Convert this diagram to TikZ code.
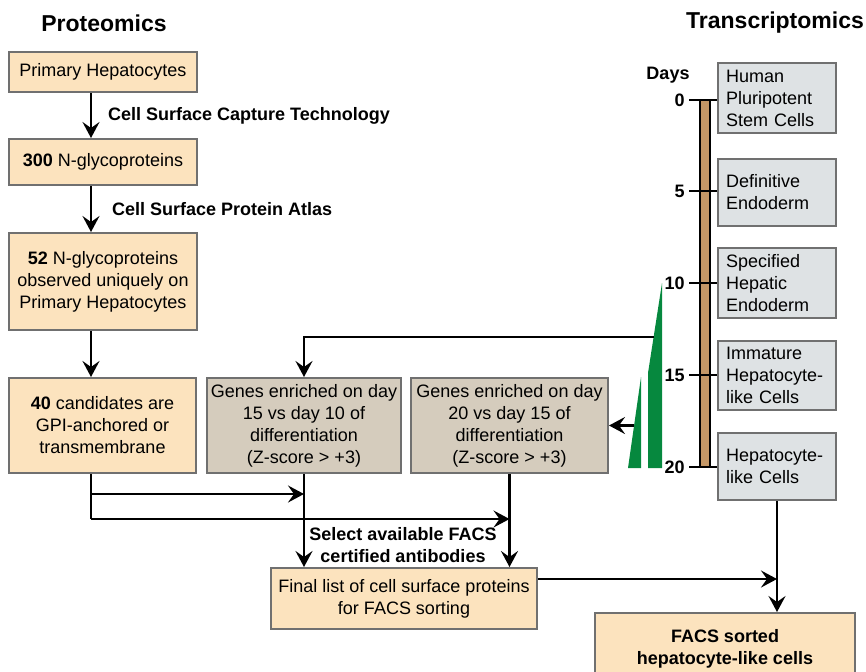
\documentclass[tikz,border=0pt]{standalone}
\usepackage{fontspec}
\setmainfont{Liberation Sans}
\usepackage{tikz}
\usetikzlibrary{positioning,calc}
\usetikzlibrary{arrows.meta}
\definecolor{Peach}{RGB}{252,227,190}
\definecolor{Tan}{RGB}{213,204,189}
\definecolor{CellGray}{RGB}{222,226,228}
\definecolor{BoxLine}{RGB}{112,112,112}
\definecolor{BarBrown}{RGB}{196,151,102}
\definecolor{WedgeGreen}{RGB}{6,136,62}
\newcommand{\boxfont}{\fontsize{9}{11}\selectfont}
\tikzset{
	pbox/.style={draw=BoxLine,line width=1pt,fill=Peach,align=center,inner sep=2pt,font=\boxfont},
	gbox/.style={draw=BoxLine,line width=1pt,fill=Tan,align=center,inner sep=2pt,font=\boxfont},
	cell/.style={draw=BoxLine,line width=1pt,fill=CellGray,align=left,inner xsep=4pt,
		text width=51pt,minimum height=33.5pt,font=\boxfont},
	lbl/.style={font=\boxfont\bfseries,align=center,inner sep=0pt},
	title/.style={font=\fontsize{11.5}{14}\selectfont\bfseries},
	arr/.style={-{Stealth[length=8pt,width=8.5pt,inset=3pt]},line width=1.1pt},
	tick/.style={line width=0.9pt},
}
\begin{document}
\begin{tikzpicture}[x=0.5pt,y=-0.5pt]
	\useasboundingbox (0,0) rectangle (866,671);
	\node[title] (prot) at (104,23) {Proteomics};
	\node[title] (trans) at (775,23) {Transcriptomics};

	% proteomics column
	\coordinate (lx) at (91,0);
	\node[pbox,minimum width=94pt,minimum height=20pt] (prim) at (103,72) {Primary Hepatocytes};
	\node[pbox,minimum width=94pt,minimum height=23pt] (glyc) at (103,162) {\textbf{300} N-glycoproteins};
	\node[pbox,minimum width=94pt,minimum height=48.5pt] (uniq) at (103,281.5)
		{\textbf{52} N-glycoproteins\\observed uniquely on\\Primary Hepatocytes};
	\node[pbox,minimum width=93.5pt,minimum height=47.5pt] (cand) at (102.5,425.5)
		{\textbf{40} candidates are\\GPI-anchored or\\transmembrane};
	\node[gbox,minimum width=97pt,minimum height=47.5pt] (day15) at (304,425.5)
		{Genes enriched on day\\15 vs day 10 of\\differentiation\\(Z-score > +3)};
	\node[gbox,minimum width=98.5pt,minimum height=47.5pt] (day20) at (509.5,425.5)
		{Genes enriched on day\\20 vs day 15 of\\differentiation\\(Z-score > +3)};
	\node[pbox,minimum width=133pt,minimum height=30.5pt] (final) at (404,598.5)
		{Final list of cell surface proteins\\for FACS sorting};
	\node[pbox,minimum width=130pt,minimum height=36pt,font=\boxfont\bfseries] (facs) at (725,649)
		{FACS sorted\\hepatocyte-like cells};
	\node[lbl] (select) at (403,545) {Select available FACS\\certified antibodies};

	% transcriptomics time line
	\node[cell] (hpsc) at (777,98) {Human\\Pluripotent\\Stem Cells};
	\node[cell] (defe) at (777,192) {Definitive\\Endoderm};
	\node[cell] (spec) at (777,283) {Specified\\Hepatic\\Endoderm};
	\node[cell] (imm) at (777,375.5) {Immature\\\mbox{Hepatocyte-}\\like Cells};
	\node[cell] (hep) at (777,466.5) {\mbox{Hepatocyte-}\\like Cells};
	\node[font=\boxfont\bfseries] (days) at (668,75) {Days};
	\draw[fill=BarBrown,line width=0.9pt] (700,100) rectangle (710,467);
	\foreach \d/\yy in {0/100,5/191,10/283,15/375,20/467}{
		\draw[tick] (689,\yy) -- (717,\yy);
		\node[font=\boxfont\bfseries,anchor=east,inner sep=1pt] (d\d) at (687,\yy) {\d};
	}
	\fill[WedgeGreen] (648,468) -- (648,373) -- (662,283) -- (662,468) -- cycle;
	\fill[WedgeGreen] (628,468) -- (641,377) -- (641,468) -- cycle;
	\coordinate (wbig) at (654,337);
	\coordinate (wsmall) at (634,425.5);

	% connectors
	\draw[arr] (prim.south -| lx) -- node[lbl,right=8pt] {Cell Surface Capture Technology} (glyc.north -| lx);
	\draw[arr] (glyc.south -| lx) -- node[lbl,right=10pt] {Cell Surface Protein Atlas} (uniq.north -| lx);
	\draw[arr] (uniq.south -| lx) -- (cand.north -| lx);
	\coordinate (ja) at (0,494);
	\coordinate (jb) at (0,519);
	\coordinate (jc) at (0,579);
	\draw[line width=1.1pt] (cand.south -| lx) -- (jb -| lx);
	\draw[arr] (ja -| lx) -- (ja -| day15.south);
	\draw[arr] (jb -| lx) -- (jb -| day20.south);
	\draw[arr] (day15.south) -- (day15.south |- final.north);
	\draw[arr] (day20.south) -- (day20.south |- final.north);
	\draw[arr] (wbig) -| (day15.north);
	\draw[arr] (wsmall) -- (day20.east);
	\draw[arr] (final.east |- jc) -- (hep.south |- jc);
	\draw[arr] (hep.south) -- (hep.south |- facs.north);
\end{tikzpicture}
\end{document}
